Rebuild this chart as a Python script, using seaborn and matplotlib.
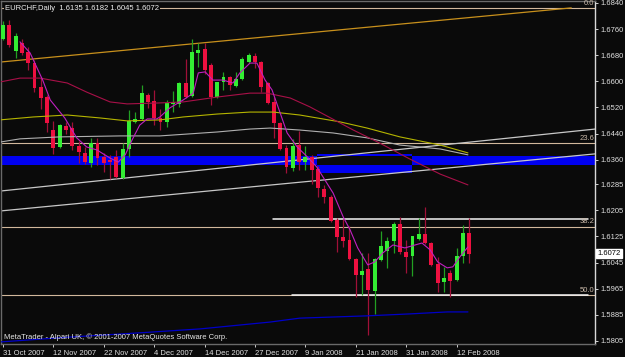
import numpy as np
import pandas as pd
import matplotlib
matplotlib.use("Agg")
import matplotlib.pyplot as plt
import matplotlib.transforms as mtransforms
from matplotlib.patches import Rectangle
import seaborn as sns

sns.set_theme(style="dark")
plt.rcParams["font.family"] = ["Liberation Sans", "DejaVu Sans"]

# ---------------- data ----------------
symbol_title = "EURCHF,Daily  1.6135 1.6182 1.6045 1.6072"
copyright_text = "MetaTrader - Alpari UK, \u00a9 2001-2007 MetaQuotes Software Corp."

opens = [1.6730, 1.6773, 1.6693, 1.6718, 1.6690, 1.6656, 1.6583, 1.6552, 1.6451, 1.6399,
         1.6463, 1.6457, 1.6402, 1.6381, 1.6350, 1.6411, 1.6368, 1.6358, 1.6368, 1.6304,
         1.6393, 1.6476, 1.6485, 1.6558, 1.6540, 1.6488, 1.6476, 1.6531, 1.6531, 1.6595,
         1.6555, 1.6687, 1.6699, 1.6650, 1.6552, 1.6598, 1.6613, 1.6586, 1.6607, 1.6659,
         1.6678, 1.6659, 1.6595, 1.6537, 1.6473, 1.6396, 1.6335, 1.6405, 1.6353, 1.6368,
         1.6332, 1.6270, 1.6246, 1.6176, 1.6123, 1.6114, 1.6056, 1.6007, 1.6026, 1.5958,
         1.6053, 1.6081, 1.6111, 1.6163, 1.6078, 1.6065, 1.6117, 1.6133, 1.6105, 1.6041,
         1.5986, 1.6013, 1.5992, 1.6065, 1.6135]
highs = [1.6785, 1.6788, 1.6748, 1.6730, 1.6705, 1.6665, 1.6613, 1.6558, 1.6479, 1.6470,
         1.6476, 1.6476, 1.6417, 1.6399, 1.6427, 1.6427, 1.6381, 1.6375, 1.6390, 1.6411,
         1.6512, 1.6506, 1.6589, 1.6564, 1.6574, 1.6515, 1.6543, 1.6571, 1.6598, 1.6669,
         1.6730, 1.6718, 1.6718, 1.6656, 1.6598, 1.6629, 1.6616, 1.6629, 1.6675, 1.6687,
         1.6687, 1.6662, 1.6598, 1.6552, 1.6476, 1.6405, 1.6424, 1.6448, 1.6402, 1.6375,
         1.6341, 1.6283, 1.6252, 1.6182, 1.6179, 1.6157, 1.6059, 1.6074, 1.6074, 1.6059,
         1.6142, 1.6123, 1.6169, 1.6185, 1.6114, 1.6127, 1.6182, 1.6215, 1.6108, 1.6062,
         1.6032, 1.6022, 1.6090, 1.6160, 1.6182]
lows = [1.6727, 1.6705, 1.6672, 1.6681, 1.6635, 1.6567, 1.6515, 1.6445, 1.6378, 1.6396,
        1.6439, 1.6390, 1.6350, 1.6347, 1.6338, 1.6344, 1.6323, 1.6301, 1.6304, 1.6301,
        1.6368, 1.6473, 1.6482, 1.6518, 1.6466, 1.6451, 1.6460, 1.6506, 1.6522, 1.6549,
        1.6552, 1.6644, 1.6623, 1.6528, 1.6549, 1.6574, 1.6574, 1.6583, 1.6604, 1.6656,
        1.6641, 1.6567, 1.6531, 1.6427, 1.6390, 1.6319, 1.6326, 1.6329, 1.6329, 1.6286,
        1.6246, 1.6228, 1.6169, 1.6078, 1.6093, 1.6053, 1.5940, 1.5946, 1.5823, 1.5888,
        1.6050, 1.6029, 1.6074, 1.6071, 1.6013, 1.6004, 1.6114, 1.6102, 1.6035, 1.5955,
        1.5955, 1.5940, 1.5989, 1.6044, 1.6045]
closes = [1.6773, 1.6712, 1.6739, 1.6687, 1.6656, 1.6580, 1.6549, 1.6473, 1.6396, 1.6466,
          1.6451, 1.6402, 1.6384, 1.6353, 1.6411, 1.6365, 1.6350, 1.6352, 1.6307, 1.6393,
          1.6479, 1.6485, 1.6564, 1.6537, 1.6488, 1.6476, 1.6534, 1.6537, 1.6595, 1.6552,
          1.6690, 1.6696, 1.6635, 1.6552, 1.6598, 1.6613, 1.6589, 1.6607, 1.6669, 1.6681,
          1.6659, 1.6583, 1.6534, 1.6473, 1.6393, 1.6338, 1.6402, 1.6353, 1.6368, 1.6329,
          1.6274, 1.6246, 1.6172, 1.6123, 1.6111, 1.6056, 1.6007, 1.6019, 1.5961, 1.6056,
          1.6096, 1.6111, 1.6163, 1.6078, 1.6062, 1.6127, 1.6133, 1.6105, 1.6038, 1.5983,
          1.5998, 1.5989, 1.6065, 1.6136, 1.6072]

# x tick labels (every 8th bar)
xtick_bars = [0, 8, 16, 24, 32, 40, 48, 56, 64, 72]
xtick_labels = ["31 Oct 2007", "12 Nov 2007", "22 Nov 2007", "4 Dec 2007", "14 Dec 2007",
                "27 Dec 2007", "9 Jan 2008", "21 Jan 2008", "31 Jan 2008", "12 Feb 2008"]
ytick_labels = ["1.6840", "1.6760", "1.6680", "1.6600", "1.6520", "1.6440", "1.6360",
                "1.6285", "1.6205", "1.6125", "1.6045", "1.5965", "1.5885", "1.5805"]

# moving averages (bar position, price)
ma_fast_x = [2.7, 4.3, 6.3, 7.5, 9.8, 11.7, 13.3, 14.9, 17.0, 18.3, 19.4, 20.5, 21.7, 22.9,
             24.4, 24.9, 26.5, 28.6, 30.2, 31.0, 32.1, 33.3, 34.9, 36.5, 37.6, 39.2, 40.3,
             41.6, 42.7, 44.0, 45.1, 46.7, 48.3, 49.8, 52.4, 54.0, 55.1, 56.3, 57.9, 59.0,
             60.3, 61.9, 63.8, 65.4, 66.5, 67.8, 69.0, 70.5, 71.4, 72.5, 73.8]
ma_fast = [1.6721, 1.6687, 1.6604, 1.6543, 1.6488, 1.6427, 1.6399, 1.6390, 1.6365, 1.6353,
           1.6375, 1.6421, 1.6466, 1.6485, 1.6485, 1.6491, 1.6519, 1.6543, 1.6564, 1.6626,
           1.6629, 1.6604, 1.6604, 1.6595, 1.6626, 1.6656, 1.6656, 1.6604, 1.6574, 1.6503,
           1.6442, 1.6399, 1.6369, 1.6338, 1.6258, 1.6185, 1.6145, 1.6090, 1.6038, 1.6047,
           1.6075, 1.6099, 1.6090, 1.6099, 1.6105, 1.6084, 1.6047, 1.6029, 1.6032, 1.6062,
           1.6093]
ma_red_x = [-0.5, 2.7, 5.9, 10.2, 13.3, 17.0, 19.7, 24.9, 28.6, 34.0, 39.2, 41.9, 45.6,
            48.7, 55.6, 59.8, 64.6, 69.4, 73.8]
ma_red = [1.6598, 1.6610, 1.6610, 1.6595, 1.6567, 1.6537, 1.6531, 1.6534, 1.6537, 1.6552,
          1.6564, 1.6564, 1.6549, 1.6522, 1.6451, 1.6411, 1.6362, 1.6316, 1.6283]
ma_yellow_x = [-0.5, 4.8, 10.2, 15.4, 19.7, 24.9, 28.6, 34.0, 39.2, 42.9, 47.1, 53.5, 57.8,
               63.0, 69.4, 73.8]
ma_yellow = [1.6482, 1.6491, 1.6497, 1.6488, 1.6479, 1.6482, 1.6491, 1.6500, 1.6506, 1.6506,
             1.6497, 1.6476, 1.6457, 1.6430, 1.6405, 1.6381]
ma_grey_x = [-0.5, 2.7, 9.0, 18.6, 24.9, 34.0, 39.2, 42.4, 47.1, 52.4, 57.8, 63.0, 69.4, 73.8]
ma_grey = [1.6414, 1.6424, 1.6430, 1.6433, 1.6433, 1.6445, 1.6454, 1.6457, 1.6451, 1.6442,
           1.6427, 1.6405, 1.6393, 1.6375]
ma_blue_x = [-0.5, 10.6, 21.7, 31.3, 42.4, 47.1, 57.8, 64.6, 70.5, 73.8]
ma_blue = [1.5802, 1.5817, 1.5830, 1.5842, 1.5863, 1.5875, 1.5882, 1.5888, 1.5894, 1.5894]

# drawn objects
gold_trend_x = [-0.5, 90.2]
gold_trend_y = [1.6659, 1.6825]
channel_up_x = [-0.5, 94.0]
channel_up_y = [1.6264, 1.6454]
channel_lo_x = [-0.5, 94.0]
channel_lo_y = [1.6203, 1.6378]
fib_names = ["0.0", "23.6", "38.2", "50.0"]
fib_levels = [1.6825, 1.6411, 1.6155, 1.5946]
white_levels = [1.6179, 1.5946]
white_starts = [42.9, 45.9]
white_end = 92.9
zone_a = (-0.5, 94.0, 1.6344, 1.6372)     # x0, x1, y0, y1
zone_b = (49.8, 64.9, 1.6320, 1.6378)

# ---------------- figure ----------------
BG = "#0a0a0a"
W, H = 625, 357
fig = plt.figure(figsize=(W / 100, H / 100), dpi=100, facecolor=BG)
ax = fig.add_axes([1 / W, 1 - 344 / H, 594 / W, 343 / H])
ax.set_facecolor(BG)

px_per_bar = 6.3
x_left = (1 - 3) / px_per_bar
x_right = (595 - 3) / px_per_bar
ax.set_xlim(x_left, x_right)
ax.set_ylim(1.57958, 1.68461)

# rectangles (XOR style overlap)
BLUE = "#0000f0"
ax.add_patch(Rectangle((zone_a[0], zone_a[2]), zone_a[1] - zone_a[0], zone_a[3] - zone_a[2],
                       facecolor=BLUE, edgecolor="none", zorder=1))
ax.add_patch(Rectangle((zone_b[0], zone_b[2]), zone_b[1] - zone_b[0], zone_b[3] - zone_b[2],
                       facecolor=BLUE, edgecolor="none", zorder=1))
ax.add_patch(Rectangle((zone_b[0], zone_a[2]), zone_b[1] - zone_b[0], zone_a[3] - zone_a[2],
                       facecolor=BG, edgecolor="none", zorder=1.1))

# fib levels
FIB = "#d2b89c"
blend = mtransforms.blended_transform_factory(ax.transAxes, ax.transData)
for name, lv in zip(fib_names, fib_levels):
    ax.axhline(lv, color=FIB, lw=0.8, zorder=2)
    ax.text(593.5 / 594, lv + 0.0004, name, transform=blend,
            ha="right", va="bottom", fontsize=5.5, color="#c8b8a8", zorder=6)

# white horizontal lines
for lv, xs0 in zip(white_levels, white_starts):
    ax.plot([xs0, white_end], [lv, lv], color="#f4f4f4", lw=1.1, zorder=2.5)

# trend lines
ax.plot(gold_trend_x, gold_trend_y, color="#c8901c", lw=0.9, zorder=2)
ax.plot(channel_up_x, channel_up_y, color="#c8c8c8", lw=0.9, zorder=2)
ax.plot(channel_lo_x, channel_lo_y, color="#c8c8c8", lw=0.9, zorder=2)

# candles
xs = np.arange(len(opens))
o = np.array(opens); c = np.array(closes); h = np.array(highs); l = np.array(lows)
up = c >= o
body_col = np.where(up, "#33ee33", "#ee1040")
wick_col = np.where(up, "#22a022", "#a01038")
ax.vlines(xs, l, h, colors=wick_col, lw=0.9, zorder=3)
heights = np.maximum(np.abs(c - o), 0.00012)
ax.bar(xs, heights, bottom=np.minimum(o, c), width=0.62, color=body_col,
       edgecolor="none", zorder=3.5)

# moving averages via seaborn
def ma_line(xv, yv, col, lw=0.8):
    df = pd.DataFrame({"bar": xv, "price": yv})
    sns.lineplot(data=df, x="bar", y="price", ax=ax, color=col, lw=lw, zorder=4,
                 sort=False, estimator=None)

ma_line(ma_yellow_x, ma_yellow, "#b4b400")
ma_line(ma_grey_x, ma_grey, "#b0b0b0")
ma_line(ma_red_x, ma_red, "#a81048")
ma_line(ma_blue_x, ma_blue, "#0000c8", lw=0.9)
ma_line(ma_fast_x, ma_fast, "#c020c0", lw=0.8)

# axes styling
ax.set_xlabel(""); ax.set_ylabel("")
ax.grid(False)
for s in ["left", "top", "bottom"]:
    ax.spines[s].set_color("#6a6a6a")
    ax.spines[s].set_linewidth(1.0)
ax.spines["right"].set_color("#d8d8d8")
ax.spines["right"].set_linewidth(1.0)

ax.yaxis.tick_right()
ax.set_yticks([float(t) for t in ytick_labels])
ax.set_yticklabels(ytick_labels)
ax.tick_params(axis="y", colors="#d0d0d0", labelsize=5.5, length=2.5, width=0.7, pad=1.5,
               right=True, left=False)
ax.set_xticks(xtick_bars)
ax.set_xticklabels(xtick_labels, ha="left")
ax.tick_params(axis="x", colors="#d0d0d0", labelsize=5.5, length=2.5, width=0.7, pad=1.5,
               bottom=True)
for lab in ax.get_xticklabels():
    lab.set_horizontalalignment("left")
    lab.set_color("#e0e0e0")
for lab in ax.get_yticklabels():
    lab.set_color("#e0e0e0")

# current price box
ax.text(1.004, closes[-1], f"{closes[-1]:.4f}", transform=blend,
        ha="left", va="center", fontsize=5.5, color="black", zorder=7, clip_on=False,
        bbox=dict(boxstyle="square,pad=0.15", facecolor="white", edgecolor="white"))

# titles
fig.text(5 / W, 1 - 8 / H, symbol_title, ha="left", va="center", fontsize=5.5,
         color="#f0f0f0", zorder=8,
         bbox=dict(boxstyle="square,pad=0.1", facecolor=BG, edgecolor="none"))
fig.text(4 / W, 1 - 337 / H, copyright_text, ha="left", va="center", fontsize=5.5,
         color="#e8e8e8", zorder=8)

fig.savefig("out.png", dpi=100, facecolor=BG)
